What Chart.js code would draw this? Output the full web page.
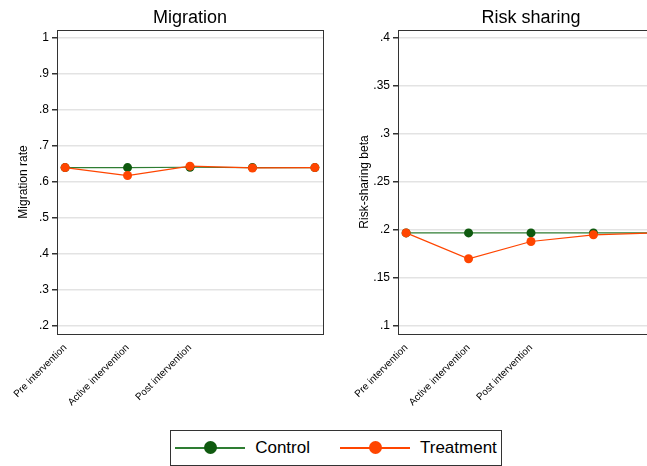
<!DOCTYPE html>
<html><head>
<script src="https://cdn.jsdelivr.net/npm/chart.js@4"></script>
<style>
body{margin:0;background:#fff;width:647px;height:466px;overflow:hidden;position:relative;font-family:"Liberation Sans",Arial,sans-serif}
.box{position:absolute;top:0;height:425px;width:330px}
#legend{position:absolute;left:170px;top:430px;width:330px;height:34px;border:1px solid #333;display:flex;align-items:center;justify-content:center;gap:30px;font-size:17px}
.it{display:flex;align-items:center;gap:10px}
.sw{position:relative;width:70px;height:2px}
.sw i{position:absolute;left:29px;top:-6px;width:13px;height:13px;border-radius:50%}
</style></head><body>
<div class="box" style="left:0"><canvas id="c1"></canvas></div>
<div class="box" style="left:341px"><canvas id="c2"></canvas></div>
<div id="legend">
<div class="it"><div class="sw" style="background:#2e7d32"><i style="background:#0f5a0f"></i></div>Control</div>
<div class="it"><div class="sw" style="background:#ff4500"><i style="background:#ff4500"></i></div>Treatment</div>
</div>
<script>
const periods = [1, 2, 3, 4, 5];
const tickLabels = ['Pre intervention', 'Active intervention', 'Post intervention'];
const migTicks = [0.2, 0.3, 0.4, 0.5, 0.6, 0.7, 0.8, 0.9, 1.0];
const riskTicks = [0.1, 0.15, 0.2, 0.25, 0.3, 0.35, 0.4];
const migControl = [0.64, 0.64, 0.641, 0.64, 0.64];
const migTreatment = [0.64, 0.618, 0.644, 0.639, 0.64];
const riskControl = [0.197, 0.197, 0.197, 0.197, 0.197];
const riskTreatment = [0.197, 0.17, 0.188, 0.195, 0.197];

// frame round the plot area and title centred over it
const frame = {
  id: 'frame',
  afterDraw(c, args, opts) {
    const a = c.chartArea, x = c.ctx;
    x.save(); x.strokeStyle = '#333'; x.lineWidth = 1;
    x.strokeRect(a.left + 0.5, a.top + 0.5, a.right - a.left, a.bottom - a.top);
    x.fillStyle = '#000'; x.font = '18px "Liberation Sans"';
    x.textAlign = 'center'; x.textBaseline = 'alphabetic';
    x.fillText(opts.text, (a.left + a.right) / 2, 23);
    x.restore();
  }
};

function make(id, title, yLabel, ticks, ctrl, treat) {
  const pad = (ticks[ticks.length - 1] - ticks[0]) * 8 / 288;
  const f = v => { const s = (+v.toFixed(2)).toString(); return s.replace(/^0/, ''); };
  new Chart(document.getElementById(id), {
    type: 'line',
    data: {
      datasets: [
        { data: periods.map((p, i) => ({x: p, y: treat[i]})), borderColor: '#ff4500', backgroundColor: '#ff4500',
          borderWidth: 1.2, pointRadius: 4.5, pointBorderWidth: 0, order: 1 },
        { data: periods.map((p, i) => ({x: p, y: ctrl[i]})), borderColor: '#2e7d32', backgroundColor: '#0f5a0f',
          borderWidth: 1.2, pointRadius: 4.5, pointBorderWidth: 0, order: 2 }
      ]
    },
    options: {
      responsive: true, maintainAspectRatio: false, animation: false,
      layout: { padding: { top: 30, right: 7, left: 16, bottom: 0 } },
      plugins: {
        legend: { display: false }, tooltip: { enabled: false },
        title: { display: false },
        frame: { text: title }
      },
      scales: {
        x: {
          type: 'linear', min: 0.87, max: 5.13,
          afterBuildTicks: s => { s.ticks = [1, 2, 3].map(v => ({value: v})); },
          afterFit: s => { s.height = 91; },
          ticks: { callback: v => tickLabels[v - 1], minRotation: 45, maxRotation: 45, color: '#000', font: { size: 10 }, autoSkip: false },
          grid: { display: false, drawTicks: true, tickLength: 5 },
          border: { color: '#333' }
        },
        y: {
          min: ticks[0] - pad, max: ticks[ticks.length - 1] + pad,
          afterBuildTicks: s => { s.ticks = ticks.map(v => ({value: v})); },
          afterFit: s => { s.width = 41; },
          ticks: { color: '#000', font: { size: 12 }, callback: v => f(v), padding: 3 },
          title: { display: true, text: yLabel, color: '#000', font: { size: 12 }, padding: 0 },
          grid: { color: '#e3e3e3', lineWidth: 1.5, tickColor: '#333', tickLength: 5 },
          border: { color: '#333' }
        }
      }
    },
    plugins: [frame]
  });
}
make('c1', 'Migration', 'Migration rate', migTicks, migControl, migTreatment);
make('c2', 'Risk sharing', 'Risk-sharing beta', riskTicks, riskControl, riskTreatment);
</script>
</body></html>
